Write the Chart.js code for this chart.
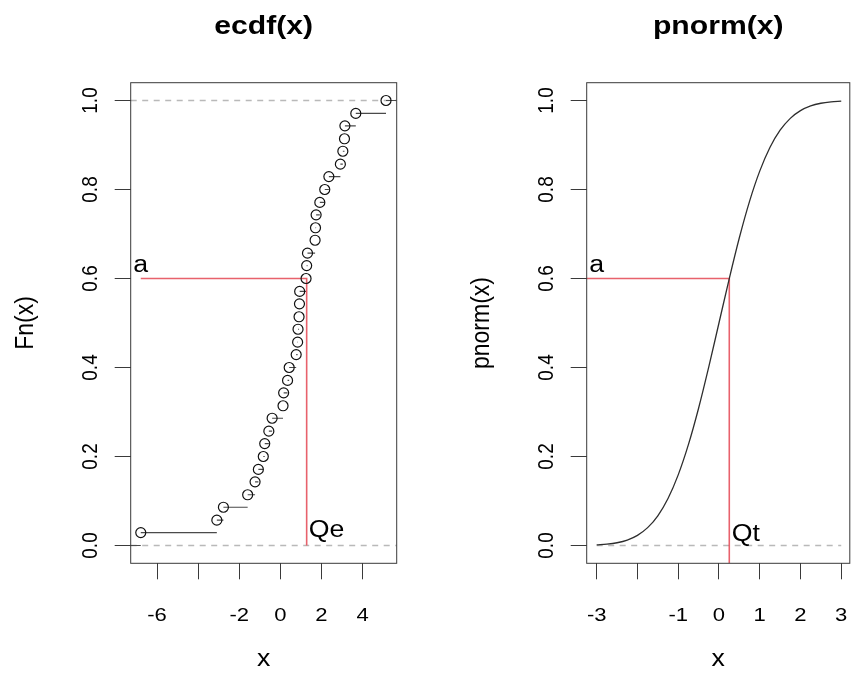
<!DOCTYPE html>
<html><head><meta charset="utf-8">
<script src="https://cdn.jsdelivr.net/npm/chart.js@4.4.1/dist/chart.umd.min.js"></script>
<style>
html,body{margin:0;padding:0;background:#fff;}
#wrap{position:relative;width:851px;height:689px;background:#fff;}
canvas{position:absolute;left:0;top:0;}
</style></head><body>
<div id="wrap"><canvas id="c1" width="851" height="689"></canvas><canvas id="c2" width="851" height="689"></canvas></div>
<script>
// ---- data ----
const ecdfX = [-6.79,-3.09,-2.77,-1.59,-1.23,-1.07,-0.83,-0.76,-0.56,-0.40,
               0.13,0.16,0.35,0.43,0.77,0.84,0.86,0.91,0.93,0.94,
               1.25,1.28,1.32,1.69,1.71,1.74,1.92,2.16,2.36,2.92,
               3.04,3.12,3.14,3.67,5.14];
const ecdfY = [0.029,0.057,0.086,0.114,0.143,0.171,0.2,0.229,0.257,0.286,
               0.314,0.343,0.371,0.4,0.429,0.457,0.486,0.514,0.543,0.571,
               0.6,0.629,0.657,0.686,0.714,0.743,0.771,0.8,0.829,0.857,
               0.886,0.914,0.943,0.971,1.0];
const levelA = 0.6;
const qe = 1.28;
const normX = [-3,-2.75,-2.5,-2.25,-2,-1.75,-1.5,-1.25,-1,-0.75,-0.5,-0.25,0,
               0.25,0.5,0.75,1,1.25,1.5,1.75,2,2.25,2.5,2.75,3];
const normY = [0.0013,0.0030,0.0062,0.0122,0.0228,0.0401,0.0668,0.1056,0.1587,0.2266,0.3085,0.4013,0.5,
               0.5987,0.6915,0.7734,0.8413,0.8944,0.9332,0.9599,0.9772,0.9878,0.9938,0.9970,0.9987];
const qt = 0.2533;
const yTicks = [0,0.2,0.4,0.6,0.8,1];
const yTickLabels = ['0.0','0.2','0.4','0.6','0.8','1.0'];
const xTicksLeft = [-6,-4,-2,0,2,4];
const xTickLabelsLeft = ['-6','','-2','0','2','4'];
const xTicksRight = [-3,-2,-1,0,1,2,3];
const xTickLabelsRight = ['-3','','-1','0','1','2','3'];
const titles = ['ecdf(x)','pnorm(x)'];
const yTitles = ['Fn(x)','pnorm(x)'];
const xTitle = 'x';

// ---- layout / style ----
const W = 851, Hh = 689;
const HS = 1.16; // horizontal text stretch
const FF = '"Liberation Sans", Arial, Helvetica, sans-serif';
const areaL = {left:130.7, right:396.7, top:82.7, bottom:563.3};
const areaR = {left:586.7, right:849.8, top:82.7, bottom:563.3};
const xRangeL = [-7.28, 5.66];
const xRangeR = [-3.245, 3.21];
const yRange = [-0.04, 1.04];
const RED = 'rgba(228,70,82,0.85)';
const DASH = '#b9b9b9';

function txt(ctx, s, x, y, font, align, base, rot){
  ctx.save(); ctx.translate(x,y); ctx.scale(HS,1); if(rot) ctx.rotate(-Math.PI/2);
  ctx.font = font; ctx.textAlign = align; ctx.textBaseline = base; ctx.fillStyle = '#000';
  ctx.fillText(s,0,0); ctx.restore();
}

function panelPlugin(o){
  return { id:'panel'+o.idx, afterDraw(chart){
    const ctx = chart.ctx, a = chart.chartArea, xs = chart.scales.x, ys = chart.scales.y;
    ctx.save();
    ctx.strokeStyle = '#3a3a3a'; ctx.lineWidth = 1;
    ctx.strokeRect(a.left, a.top, a.right-a.left, a.bottom-a.top);
    const cx = (a.left+a.right)/2, cy = (a.top+a.bottom)/2;
    const f19 = '19px '+FF, f23 = '23px '+FF;
    txt(ctx, titles[o.idx], cx, a.top-49.2, 'bold 26px '+FF, 'center', 'alphabetic');
    o.xTicks.forEach((v,i)=>{ if(o.xLabels[i]) txt(ctx, o.xLabels[i], xs.getPixelForValue(v), a.bottom+57.4, f19, 'center', 'alphabetic'); });
    yTicks.forEach((v,i)=> txt(ctx, yTickLabels[i], a.left-34, ys.getPixelForValue(v), f19, 'center', 'alphabetic', true));
    txt(ctx, yTitles[o.idx], a.left-98, cy, f23, 'center', 'alphabetic', true);
    txt(ctx, xTitle, cx, a.bottom+103, f23, 'center', 'alphabetic');
    // annotations
    txt(ctx, 'a', xs.getPixelForValue(o.aX), ys.getPixelForValue(levelA)-6.5, f23, 'center', 'alphabetic');
    txt(ctx, o.qLabel, xs.getPixelForValue(o.qX)+o.qDx, ys.getPixelForValue(0)-o.qDy, f23, 'left', 'alphabetic');
    ctx.restore();
  }};
}

function axisOpts(min, max, ticks, fitFn){
  return { type:'linear', min, max,
    afterBuildTicks: s => { s.ticks = ticks.map(v=>({value:v})); },
    afterFit: fitFn,
    ticks:{display:false},
    grid:{display:true, drawOnChartArea:false, drawTicks:true, tickLength:16, color:'#3a3a3a', lineWidth:1},
    border:{display:false} };
}
function opts(area, xr, xTicks){
  return { responsive:false, animation:false, events:[],
    layout:{padding:{left:0, top:area.top, right:W-area.right, bottom:0}},
    plugins:{legend:{display:false}, tooltip:{enabled:false}, title:{display:false}},
    scales:{
      x: axisOpts(xr[0], xr[1], xTicks, s=>{ s.height = Hh-area.bottom; }),
      y: axisOpts(yRange[0], yRange[1], yTicks, s=>{ s.width = area.left; })
    } };
}

// ---- left: ecdf ----
const segData = [{x:xRangeL[0], y:0},{x:ecdfX[0], y:0},{x:NaN,y:NaN}];
ecdfX.forEach((x,i)=>{
  const nx = i < ecdfX.length-1 ? ecdfX[i+1] : xRangeL[1];
  segData.push({x, y:ecdfY[i]}, {x:nx, y:ecdfY[i]}, {x:NaN, y:NaN});
});
new Chart(document.getElementById('c1'), {
  type:'scatter',
  data:{datasets:[
    {data: ecdfX.map((x,i)=>({x, y:ecdfY[i]})), showLine:false, pointRadius:5, pointBorderWidth:1.2,
     pointBorderColor:'#111', pointBackgroundColor:'rgba(0,0,0,0)'},
    {data:[{x:ecdfX[0],y:levelA},{x:qe,y:levelA},{x:qe,y:0}], showLine:true, borderColor:RED, borderWidth:1.6, pointRadius:0},
    {data:segData, showLine:true, spanGaps:false, borderColor:'#4a4a4a', borderWidth:1.1, pointRadius:0},
    {data:[{x:xRangeL[0],y:0},{x:xRangeL[1],y:0}], showLine:true, borderColor:DASH, borderWidth:1.3, borderDash:[6,5.5], pointRadius:0},
    {data:[{x:xRangeL[0],y:1},{x:xRangeL[1],y:1}], showLine:true, borderColor:DASH, borderWidth:1.3, borderDash:[6,5.5], pointRadius:0}
  ]},
  options: opts(areaL, xRangeL, xTicksLeft),
  plugins:[panelPlugin({idx:0, xTicks:xTicksLeft, xLabels:xTickLabelsLeft, aX:ecdfX[0], qX:qe, qLabel:'Qe', qDx:2, qDy:9})]
});

// ---- right: pnorm ----
new Chart(document.getElementById('c2'), {
  type:'scatter',
  data:{datasets:[
    {data: normX.map((x,i)=>({x, y:normY[i]})), showLine:true, cubicInterpolationMode:'monotone',
     borderColor:'#2e2e2e', borderWidth:1.3, pointRadius:0},
    {data:[{x:xRangeR[0],y:levelA},{x:qt,y:levelA},{x:qt,y:yRange[0]}], showLine:true, borderColor:RED, borderWidth:1.6, pointRadius:0},
    {data:[{x:normX[0],y:0},{x:normX[normX.length-1],y:0}], showLine:true, borderColor:DASH, borderWidth:1.3, borderDash:[6,5.5], pointRadius:0}
  ]},
  options: opts(areaR, xRangeR, xTicksRight),
  plugins:[panelPlugin({idx:1, xTicks:xTicksRight, xLabels:xTickLabelsRight, aX:normX[0], qX:qt, qLabel:'Qt', qDx:2.5, qDy:4.5})]
});
</script>
</body></html>
